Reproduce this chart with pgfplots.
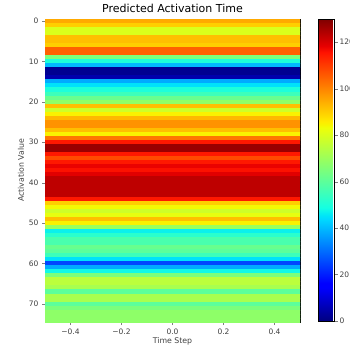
\documentclass[border=0pt]{standalone}
\usepackage{pgfplots}
\pgfplotsset{compat=1.18}
\usepackage{fontspec}
\setmainfont{DejaVu Sans}
\pgfplotsset{colormap={mpljet}{rgb(0pt)=(0,0,0.5); rgb(110pt)=(0,0,1); rgb(125pt)=(0,0,1); rgb(340pt)=(0,0.86,1); rgb(350pt)=(0,0.9,0.968); rgb(375pt)=(0.081,1,0.887); rgb(640pt)=(0.935,1,0.032); rgb(650pt)=(0.968,0.963,0); rgb(660pt)=(1,0.926,0); rgb(890pt)=(1,0.074,0); rgb(910pt)=(0.909,0,0); rgb(1000pt)=(0.5,0,0)}}
\begin{document}
\begin{tikzpicture}
\begin{axis}[
  at={(45pt,25pt)}, anchor=south west,
  scale only axis, width=255pt, height=303pt,
  xmin=-0.5, xmax=0.5, ymin=-0.5, ymax=74.5,
  y dir=reverse,
  colormap name=mpljet,
  point meta min=0, point meta max=130,
  /pgf/number format/assume math mode=true,
  xtick={-0.4,-0.2,0,0.2,0.4},
  ytick={0,10,...,70},
  xticklabels={−0.4,−0.2,0.0,0.2,0.4},
  tick label style={font=\fontsize{7.5}{9}\selectfont, text=black!75},
  tick align=outside, major tick length=3pt,
  xtick pos=bottom, ytick pos=left,
  title={Predicted Activation Time},
  title style={font=\fontsize{11}{13}\selectfont, yshift=-3pt},
  xlabel={Time Step}, ylabel={Activation Value},
  label style={font=\fontsize{7.8}{9}\selectfont, text=black!75},
  xlabel style={yshift=3pt},
  ylabel style={yshift=-2pt},
  axis line style={black},
  colorbar,
  colorbar style={
    at={(parent axis.north east)}, anchor=north west, xshift=10pt,
    width=16pt, height=302pt,
    ytick={0,20,...,120},
    /pgf/number format/assume math mode=true,
    yticklabel style={font=\fontsize{7.5}{9}\selectfont, text=black!75, xshift=-1.5pt},
    tick align=outside, major tick length=3pt,
    ytick pos=right,
  },
]
\addplot[matrix plot*, mesh/cols=2, point meta=explicit] table[x=x, y=y, meta=v] {
x y v
-0.25 0 95
0.25 0 95
-0.25 1 90
0.25 1 90
-0.25 2 80
0.25 2 80
-0.25 3 80
0.25 3 80
-0.25 4 92
0.25 4 92
-0.25 5 92
0.25 5 92
-0.25 6 90
0.25 6 90
-0.25 7 105
0.25 7 105
-0.25 8 105
0.25 8 105
-0.25 9 65
0.25 9 65
-0.25 10 50
0.25 10 50
-0.25 11 40
0.25 11 40
-0.25 12 2
0.25 12 2
-0.25 13 2
0.25 13 2
-0.25 14 5
0.25 14 5
-0.25 15 38
0.25 15 38
-0.25 16 45
0.25 16 45
-0.25 17 50
0.25 17 50
-0.25 18 55
0.25 18 55
-0.25 19 62
0.25 19 62
-0.25 20 68
0.25 20 68
-0.25 21 92
0.25 21 92
-0.25 22 78
0.25 22 78
-0.25 23 85
0.25 23 85
-0.25 24 93
0.25 24 93
-0.25 25 98
0.25 25 98
-0.25 26 98
0.25 26 98
-0.25 27 92
0.25 27 92
-0.25 28 85
0.25 28 85
-0.25 29 102
0.25 29 102
-0.25 30 115
0.25 30 115
-0.25 31 127
0.25 31 127
-0.25 32 127
0.25 32 127
-0.25 33 115
0.25 33 115
-0.25 34 108
0.25 34 108
-0.25 35 115
0.25 35 115
-0.25 36 118
0.25 36 118
-0.25 37 116
0.25 37 116
-0.25 38 119
0.25 38 119
-0.25 39 123
0.25 39 123
-0.25 40 123
0.25 40 123
-0.25 41 123
0.25 41 123
-0.25 42 123
0.25 42 123
-0.25 43 123
0.25 43 123
-0.25 44 115
0.25 44 115
-0.25 45 90
0.25 45 90
-0.25 46 84
0.25 46 84
-0.25 47 78
0.25 47 78
-0.25 48 82
0.25 48 82
-0.25 49 92
0.25 49 92
-0.25 50 85
0.25 50 85
-0.25 51 70
0.25 51 70
-0.25 52 47
0.25 52 47
-0.25 53 52
0.25 53 52
-0.25 54 57
0.25 54 57
-0.25 55 57
0.25 55 57
-0.25 56 62
0.25 56 62
-0.25 57 60
0.25 57 60
-0.25 58 55
0.25 58 55
-0.25 59 45
0.25 59 45
-0.25 60 25
0.25 60 25
-0.25 61 38
0.25 61 38
-0.25 62 48
0.25 62 48
-0.25 63 65
0.25 63 65
-0.25 64 75
0.25 64 75
-0.25 65 75
0.25 65 75
-0.25 66 72
0.25 66 72
-0.25 67 60
0.25 67 60
-0.25 68 72
0.25 68 72
-0.25 69 72
0.25 69 72
-0.25 70 60
0.25 70 60
-0.25 71 65
0.25 71 65
-0.25 72 68
0.25 72 68
-0.25 73 68
0.25 73 68
-0.25 74 68
0.25 74 68
};
\end{axis}
\pgfresetboundingbox
\useasboundingbox (0,0) rectangle (350pt,347pt);
\end{tikzpicture}
\end{document}
